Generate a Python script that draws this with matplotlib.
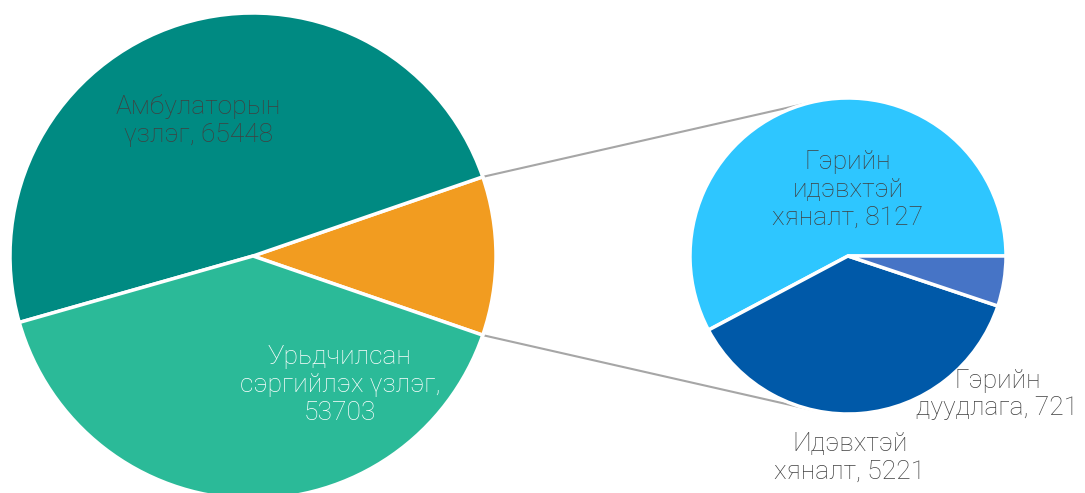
import numpy as np
import matplotlib.pyplot as plt

# left pie
main_labels = ['', 'Амбулаторын\nүзлэг, 65448', 'Урьдчилсан\nсэргийлэх үзлэг,\n53703']
main_values = [0, 65448, 53703]
# right pie (breakdown of the orange slice)
sub_labels = ['Гэрийн\nидэвхтэй\nхяналт, 8127', 'Идэвхтэй\nхяналт, 5221', 'Гэрийн\nдуудлага, 721']
sub_values = [8127, 5221, 721]
main_values[0] = sum(sub_values)

main_colors = ['#F29C20', '#008A82', '#2BBA98']
sub_colors = ['#2EC6FF', '#0059A8', '#4674C6']

plt.rcParams['font.family'] = ['Roboto', 'DejaVu Sans']

W, H = 1085, 493
fig = plt.figure(figsize=(W / 100, H / 100), dpi=100)
ax = fig.add_axes([0, 0, 1, 1])
ax.set_aspect('equal')

c1, r1 = (253, H - 256), 243
c2, r2 = (848, H - 256), 158

half = main_values[0] / sum(main_values) * 180
ax.pie(main_values, colors=main_colors, center=c1, radius=r1,
       startangle=-half, counterclock=True, frame=True,
       wedgeprops=dict(edgecolor='white', linewidth=2.5))
ax.pie(sub_values, colors=sub_colors, center=c2, radius=r2,
       startangle=0, counterclock=True, frame=True,
       wedgeprops=dict(edgecolor='white', linewidth=2.5))
ax.set_xlim(0, W)
ax.set_ylim(0, H)
ax.axis('off')

# connector lines
for a1, a2 in [(half, 104), (-half, -103)]:
    p1 = (c1[0] + r1 * np.cos(np.radians(a1)), c1[1] + r1 * np.sin(np.radians(a1)))
    p2 = (c2[0] + r2 * np.cos(np.radians(a2)), c2[1] + r2 * np.sin(np.radians(a2)))
    ax.plot([p1[0], p2[0]], [p1[1], p2[1]], color='#A6A6A6', lw=1.5, zorder=0)

def put(center, r, ang, dist, text, color):
    x = center[0] + r * dist * np.cos(np.radians(ang))
    y = center[1] + r * dist * np.sin(np.radians(ang))
    ax.text(x, y, text, ha='center', va='center', multialignment='center',
            fontsize=19, fontweight='light', color=color, linespacing=1.2)

put(c1, r1, 112, 0.60, main_labels[1], '#404040')
put(c1, r1, -56, 0.64, main_labels[2], 'white')
put(c2, r2, 90, 0.42, sub_labels[0], '#404040')
put(c2, r2, -89.5, 1.28, sub_labels[1], '#404040')
put(c2, r2, -42.8, 1.29, sub_labels[2], '#404040')

fig.savefig('out.png', dpi=100)
